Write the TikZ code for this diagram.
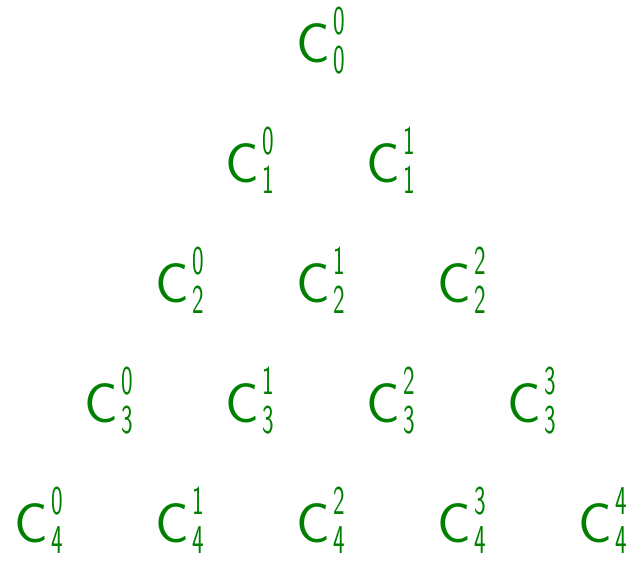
\documentclass[tikz,border=0pt]{standalone}
\usepackage{amsmath}
\usepackage{graphicx}
\usepackage{tikz}
\usetikzlibrary{positioning}

% 组合数记号：C 右上为 k，右下为 n
\newcommand{\Cnk}[2]{%
  C\kern1.5pt%
  {\fontsize{20.5}{22}\selectfont
   \rlap{\raisebox{14pt}{\scalebox{0.6}[1]{#2}}}%
   \raisebox{-5.5pt}{\scalebox{0.6}[1]{#1}}}}

\begin{document}
\begin{tikzpicture}[x=0.5pt, y=-0.5pt,
    binom/.style={text=green!50!black, anchor=base west, inner sep=0pt,
      font=\fontsize{28}{34}\sffamily}]
    % 版面大小（像素）
    \useasboundingbox (0, 0) rectangle (641, 563);
    % 行距与列距
    \def\rowH{120}
    \def\colW{141}

    % --- 杨辉三角：C_n^k ---
    \foreach \n in {0,...,4}{
      \foreach \k in {0,...,\n}{
        \node[binom] (c-\n-\k) at (296 - \n*\colW/2 + \k*\colW, 62.5 + \n*\rowH)
          {\Cnk{\n}{\k}};
      }
    }
\end{tikzpicture}
\end{document}
